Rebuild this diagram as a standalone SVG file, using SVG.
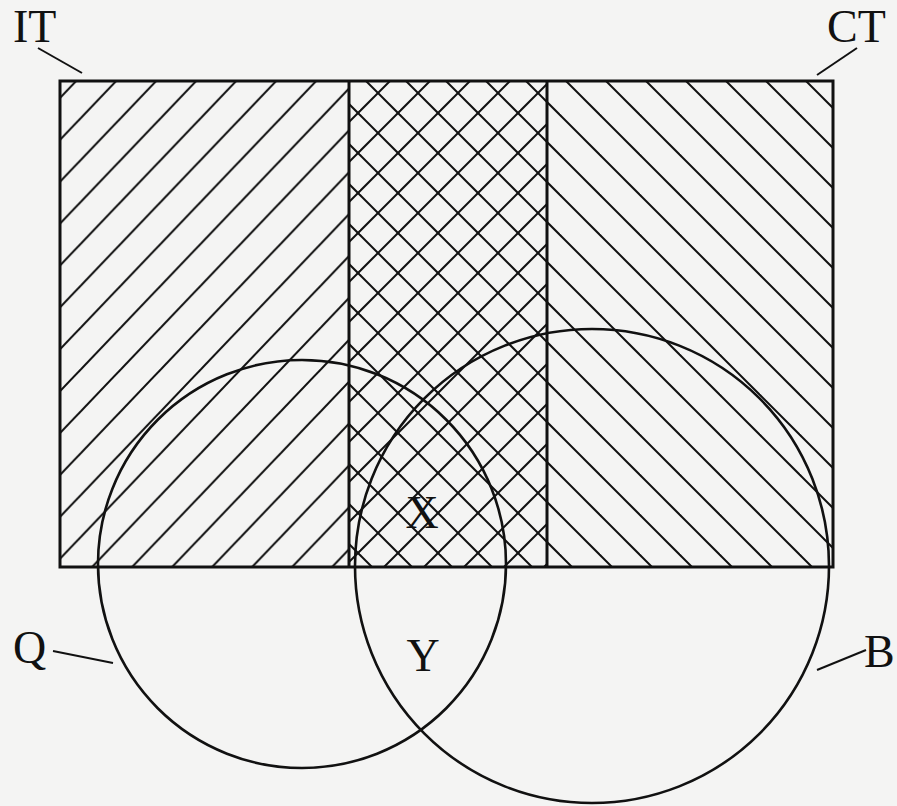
<svg xmlns="http://www.w3.org/2000/svg" width="897" height="806" viewBox="0 0 897 806">
  <style>
    .hatch { stroke: #111; stroke-width: 2; fill: none; }
    .edge { fill: none; stroke: #111; stroke-width: 3; }
    .circ { fill: none; stroke: #111; stroke-width: 2.6; }
    .lead { stroke: #111; stroke-width: 2; fill: none; }
    .lbl { font-family: "Liberation Serif", "Times New Roman", serif; font-size: 46px; fill: #111; }
  </style>
  <defs>
    <pattern id="fwd" patternUnits="userSpaceOnUse" x="0" y="0" width="40" height="41.89">
      <line class="hatch" x1="73.5" y1="-41.89" x2="-46.5" y2="83.78"/>
      <line class="hatch" x1="113.5" y1="-41.89" x2="-6.5" y2="83.78"/>
    </pattern>
    <pattern id="back" patternUnits="userSpaceOnUse" x="0" y="0" width="40" height="40">
      <line class="hatch" x1="-35" y1="-40" x2="85" y2="80"/>
      <line class="hatch" x1="-75" y1="-40" x2="45" y2="80"/>
    </pattern>
    <pattern id="cross" patternUnits="userSpaceOnUse" x="0" y="0" width="40" height="40">
      <line class="hatch" x1="-35" y1="-40" x2="85" y2="80"/>
      <line class="hatch" x1="-75" y1="-40" x2="45" y2="80"/>
      <line class="hatch" x1="71" y1="-40" x2="-49" y2="80"/>
      <line class="hatch" x1="111" y1="-40" x2="-9" y2="80"/>
    </pattern>
  </defs>
  <rect x="0" y="0" width="897" height="806" fill="#f4f4f3"/>

  <g id="region-IT">
    <rect x="60" y="81" width="289" height="486" fill="url(#fwd)" stroke="none"/>
  </g>
  <g id="region-overlap">
    <rect x="349" y="81" width="198" height="486" fill="url(#cross)" stroke="none"/>
  </g>
  <g id="region-CT">
    <rect x="547" y="81" width="286" height="486" fill="url(#back)" stroke="none"/>
  </g>
  <g id="frame">
    <rect class="edge" x="60" y="81" width="773" height="486"/>
    <line class="edge" x1="349" y1="81" x2="349" y2="567"/>
    <line class="edge" x1="547" y1="81" x2="547" y2="567"/>
  </g>

  <g id="circle-Q">
    <circle class="circ" cx="302" cy="564" r="204"/>
  </g>
  <g id="circle-B">
    <circle class="circ" cx="592" cy="566" r="237"/>
  </g>

  <g id="connectors">
    <line class="lead" x1="38" y1="48" x2="82" y2="73"/>
    <line class="lead" x1="857" y1="48" x2="817" y2="75"/>
    <line class="lead" x1="53" y1="651" x2="113" y2="663"/>
    <line class="lead" x1="866" y1="650" x2="817" y2="670"/>
  </g>

  <g id="labels">
    <text class="lbl" x="13" y="42">IT</text>
    <text class="lbl" x="827" y="42">CT</text>
    <text class="lbl" x="13" y="663">Q</text>
    <text class="lbl" x="864" y="667">B</text>
    <text class="lbl" x="422" y="528" text-anchor="middle">X</text>
    <text class="lbl" x="423" y="671" text-anchor="middle">Y</text>
  </g>
</svg>
